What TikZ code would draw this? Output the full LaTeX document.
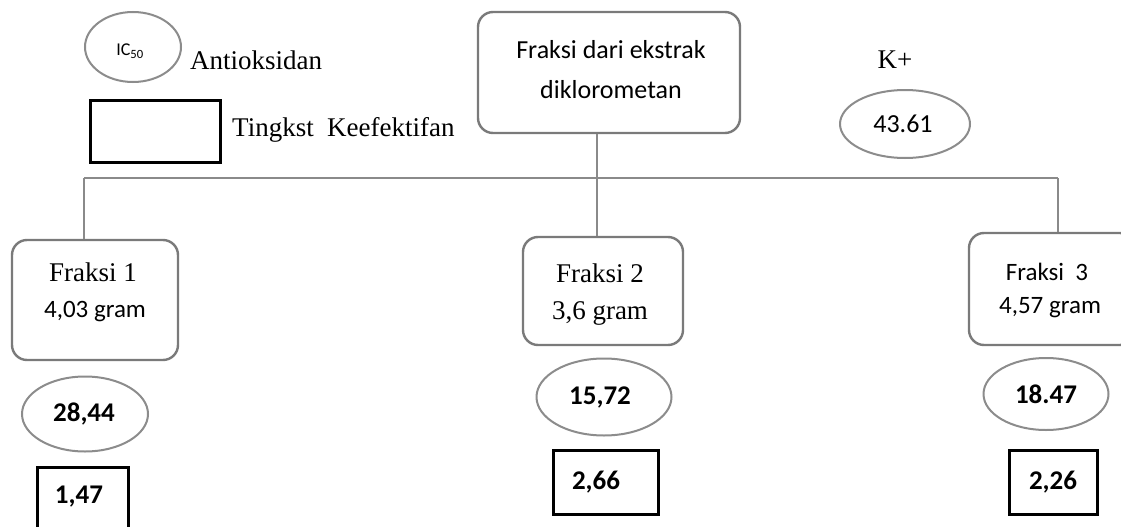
\documentclass[tikz,border=0pt]{standalone}
\usepackage{fontspec}
\setmainfont{Liberation Serif}
\setsansfont{Carlito}
\usetikzlibrary{shapes.geometric}
\definecolor{boxgray}{HTML}{7A7A7A}
\definecolor{linegray}{HTML}{8A8A8A}
\definecolor{ellgray}{HTML}{8C8C8C}
\tikzset{
  conn/.style={draw=linegray, line width=2.6pt},
  rbox/.style={draw=boxgray, line width=2.4pt, rounded corners=15pt, inner sep=0pt},
  oval/.style={ellipse, draw=ellgray, line width=2pt, inner sep=0pt},
  kbox/.style={draw=black, line width=3pt, inner sep=0pt},
  serif/.style={font=\rmfamily\fontsize{27}{40}\selectfont, inner sep=0pt, align=center},
  sans/.style={font=\sffamily\fontsize{25}{40}\selectfont, inner sep=0pt, align=center},
  sansb/.style={font=\sffamily\bfseries\fontsize{27}{30}\selectfont, inner sep=0pt},
}
\begin{document}
\begin{tikzpicture}[x=1pt, y=-1pt]
\useasboundingbox (0,0) rectangle (1121,527);
\clip (0,0) rectangle (1121,527);
\fill[white] (0,0) rectangle (1121,527);

% legend
\node[oval, minimum width=96pt, minimum height=70pt] (leg1) at (133,47) {};
\node[font=\sffamily\fontsize{18}{20}\selectfont, inner sep=0pt] (leg1t) at (130,51) {IC\textsubscript{50}};
\node[font=\rmfamily\fontsize{27}{30}\selectfont, inner sep=0pt, anchor=west] (leg1l) at (190,60) {Antioksidan};
\node[kbox, minimum width=130pt, minimum height=62pt] (leg2) at (155,131) {};
\node[font=\rmfamily\fontsize{27}{30}\selectfont, inner sep=0pt, anchor=west] (leg2l) at (232,130) {Tingkst\ \ Keefektifan};

% top box
\node[rbox, minimum width=262pt, minimum height=121pt] (top) at (609,72.5) {};
\node[sans, font=\sffamily\fontsize{26}{40}\selectfont] (topt) at (611,70) {Fraksi dari ekstrak\\diklorometan};

% K+
\node[font=\rmfamily\fontsize{27}{30}\selectfont, inner sep=0pt] (kp) at (895,60) {K+};
\node[oval, minimum width=130pt, minimum height=68pt] (ek) at (905,124) {};
\node[font=\sffamily\fontsize{26}{30}\selectfont, inner sep=0pt] (ekt) at (903,124) {43.61};

% fraction boxes
\node[rbox, minimum width=166pt, minimum height=120pt] (f1) at (95,300) {};
\node[rbox, minimum width=160pt, minimum height=108pt] (f2) at (603,291) {};
\node[rbox, minimum width=166pt, minimum height=112pt] (f3) at (1052,289) {};

\node[serif] (f1a) at (93,272) {Fraksi 1};
\node[sans] (f1b) at (95,312) {4,03 gram};
\node[serif] (f2a) at (600,273) {Fraksi 2};
\node[serif] (f2b) at (600,313) {3,6 gram};
\node[sans] (f3a) at (1047,272) {Fraksi\ \ 3};
\node[sans] (f3b) at (1050,308) {4,57 gram};

% ovals
\node[oval, minimum width=126pt, minimum height=75pt] (e1) at (85,414) {};
\node[sansb] (e1t) at (84,414) {28,44};
\node[oval, minimum width=135pt, minimum height=77pt] (e2) at (604,397) {};
\node[sansb] (e2t) at (600,397) {15,72};
\node[oval, minimum width=125pt, minimum height=72pt] (e3) at (1046,394) {};
\node[sansb] (e3t) at (1046,394) {18.47};

% effectiveness boxes
\node[kbox, minimum width=91pt, minimum height=70pt] (r1) at (82.5,502) {};
\node[sansb] (r1t) at (79,497) {1,47};
\node[kbox, minimum width=105pt, minimum height=64pt] (r2) at (605.5,482) {};
\node[sansb] (r2t) at (596,482) {2,66};
\node[kbox, minimum width=88pt, minimum height=64pt] (r3) at (1053,482) {};
\node[sansb] (r3t) at (1053,482) {2,26};

% connectors
\coordinate (b1) at (84,178);
\coordinate (b2) at (597,178);
\coordinate (b3) at (1058,178);
\draw[conn] (b1) -- (b3);
\draw[conn] (b1) -- (b1 |- f1.north);
\draw[conn] (b3) -- (b3 |- f3.north);
\draw[conn] (b2 |- top.south) -- (b2 |- f2.north);
\end{tikzpicture}
\end{document}
